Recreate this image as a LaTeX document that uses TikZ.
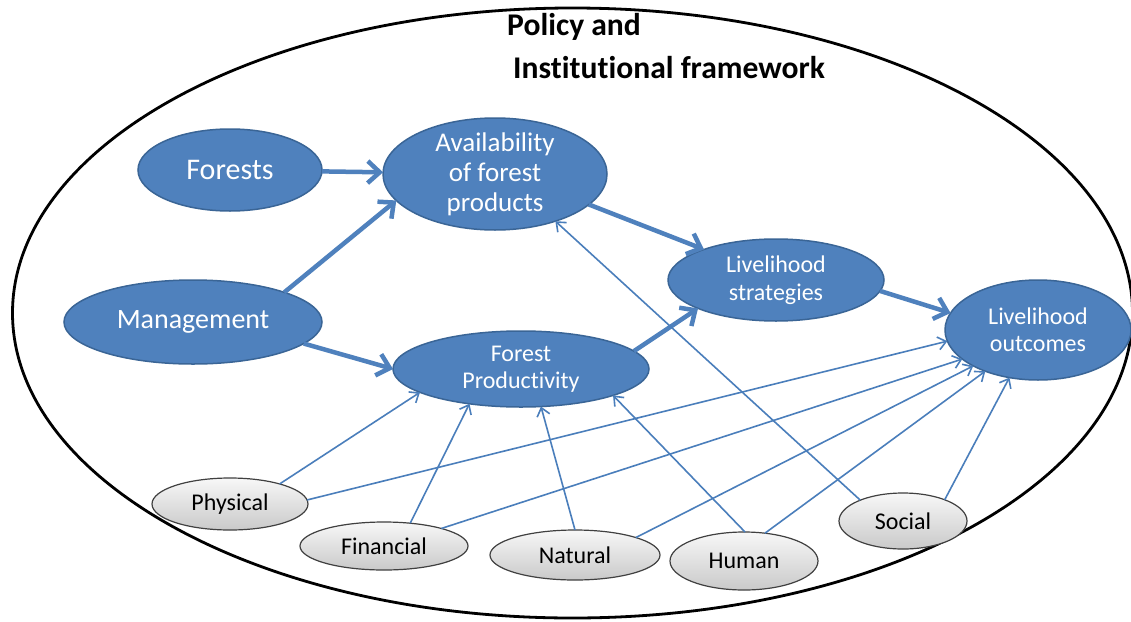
\documentclass[tikz,border=0pt]{standalone}
\usepackage{fontspec}
\setmainfont{Carlito}[Ligatures=NoCommon]
\usetikzlibrary{shapes.geometric,arrows.meta}

\definecolor{nodeblue}{HTML}{4F81BD}
\definecolor{edgeblue}{HTML}{3A6596}
\definecolor{linkblue}{HTML}{4A7EBB}

\tikzset{
  factor/.style={ellipse, fill=nodeblue, draw=edgeblue, line width=1.5pt,
    text=white, inner sep=-15pt, outer sep=0pt, align=center},
  asset/.style={ellipse, top color=gray!6, bottom color=gray!42, draw=black!75,
    line width=1.2pt, text=black, inner sep=-15pt, outer sep=0pt,
    font=\fontsize{24}{27}\selectfont},
  heading/.style={anchor=base west, inner sep=0pt, font=\bfseries\fontsize{31.6}{36}\selectfont},
  mainlink/.style={draw=nodeblue, line width=4.5pt,
    -{Straight Barb[length=12pt,width=22pt]}},
  sublink/.style={draw=linkblue, line width=1.6pt,
    -{Straight Barb[length=8pt,width=13pt]}},
}

\begin{document}
\begin{tikzpicture}[x=1pt, y=-1pt]
  \useasboundingbox (0,0) rectangle (1131,621);
  \fill[white] (0,0) rectangle (1131,621);

  % policy and institutional frame
  \node[ellipse, draw=black, line width=2.8pt, minimum width=1120pt,
        minimum height=610pt, inner sep=0pt] (frame) at (572.5,313) {};
  \node[heading] (policy) at (507,35) {Policy and};
  \node[heading] (inst) at (513,78) {Institutional framework};

  % main factors
  \node[factor, minimum width=184pt, minimum height=82pt,
        font=\fontsize{30}{34}\selectfont] (forests) at (230,170) {Forests};
  \node[factor, minimum width=224pt, minimum height=112pt,
        font=\fontsize{27}{30}\selectfont] (avail) at (495,174) {Availability\\of forest\\products};
  \node[factor, minimum width=258pt, minimum height=84pt,
        font=\fontsize{28}{32}\selectfont] (mgmt) at (193,322) {Management};
  \node[factor, minimum width=256pt, minimum height=76pt,
        font=\fontsize{24}{27}\selectfont] (fp) at (521,369) {Forest\\Productivity};
  \node[factor, minimum width=216pt, minimum height=82pt,
        font=\fontsize{24}{28}\selectfont] (ls) at (776,280) {Livelihood\\strategies};
  \node[factor, minimum width=186pt, minimum height=100pt,
        font=\fontsize{24}{27}\selectfont] (lo) at (1038,330) {Livelihood\\outcomes};

  % livelihood assets
  \node[asset, minimum width=156pt, minimum height=52pt] (phys) at (230,504) {Physical};
  \node[asset, minimum width=168pt, minimum height=48pt] (fin) at (384,546) {Financial};
  \node[asset, minimum width=170pt, minimum height=50pt] (nat) at (575,555) {Natural};
  \node[asset, minimum width=148pt, minimum height=58pt] (hum) at (744,561) {Human};
  \node[asset, minimum width=128pt, minimum height=56pt] (soc) at (903,521) {Social};

  % main causal chain
  \draw[mainlink] (forests) -- (avail);
  \draw[mainlink] (mgmt.18) -- (avail.195);
  \draw[mainlink] (mgmt.-11) -- (fp.west);
  \draw[mainlink] (avail.-18) -- (ls.157);
  \draw[mainlink] (fp.9) -- (ls.200);
  \draw[mainlink] (ls.-6) -- (lo.169);

  % asset influences
  \draw[sublink] (phys.22) -- (fp.193);
  \draw[sublink] (phys.3) -- (lo.187);
  \draw[sublink] (fin.41) -- (fp.214);
  \draw[sublink] (fin.17) -- (lo.201);
  \draw[sublink] (nat.90) -- (fp.298);
  \draw[sublink] (nat.16) -- (lo.209);
  \draw[sublink] (hum.88) -- (fp.344);
  \draw[sublink] (hum.53) -- (lo.218);
  \draw[sublink] (soc.154) -- (avail.322);
  \draw[sublink] (soc.27) -- (lo.239);
\end{tikzpicture}
\end{document}
